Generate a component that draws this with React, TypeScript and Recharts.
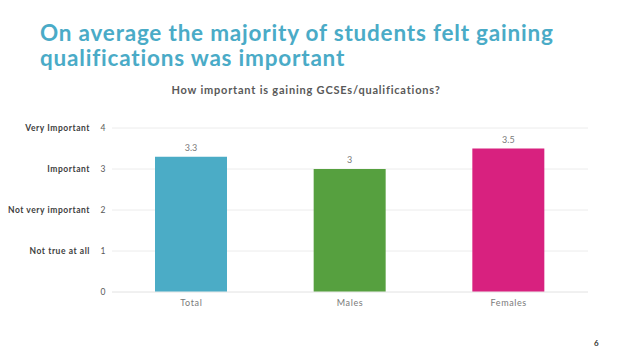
import { Bar, BarChart, CartesianGrid, Cell, LabelList, XAxis, YAxis } from "recharts";

const categories = ["Total", "Males", "Females"];
const averages = [3.3, 3, 3.5];
const barColors = ["#4bacc6", "#56a03f", "#d8217f"];
const scaleLabels = ["", "Not true at all", "Not very important", "Important", "Very Important"];
const yTicks = [0, 1, 2, 3, 4];

const data = categories.map((name, i) => ({ name, value: averages[i] }));

const font = "Lato, 'Open Sans', sans-serif";

const YTick = (props: any) => {
  const { x, y, payload } = props;
  const label = scaleLabels[payload.value];
  return (
    <g>
      <text x={x - 14} y={y} dy={3} textAnchor="end" fontSize={8.5} fontWeight={700} fill="#404040" fontFamily={font} letterSpacing={0.55}>
        {label}
      </text>
      <text x={x - 1} y={y} dy={3} textAnchor="middle" fontSize={8.5} fill="#595959" fontFamily={font}>
        {payload.value}
      </text>
    </g>
  );
};

export default function App() {
  return (
    <div style={{ position: "absolute", left: 0, top: 0, width: 640, height: 360, background: "#fff", fontFamily: font }}>
      <div style={{ position: "absolute", left: 40, top: 20, fontSize: 22.5, fontWeight: 700, color: "#4aabc7", lineHeight: "25px", letterSpacing: 0.8 }}>
        On average the majority of students felt gaining
        <br />
        qualifications was important
      </div>
      <div style={{ position: "absolute", left: 0, width: 612, top: 83, textAlign: "center", fontSize: 11, fontWeight: 700, color: "#595959", letterSpacing: 0.8 }}>
        How important is gaining GCSEs/qualifications?
      </div>
      <div style={{ position: "absolute", left: 0, top: 0 }}>
        <BarChart width={640} height={360} data={data} margin={{ top: 128, right: 52, bottom: 38, left: 0 }}>
          <CartesianGrid vertical={false} stroke="#ececec" />
          <XAxis dataKey="name" axisLine={{ stroke: "#ececec" }} tickLine={false} tick={{ fontSize: 9, fill: "#7a7a7a", fontFamily: font, letterSpacing: 0.6 }} tickMargin={2} />
          <YAxis width={112} domain={[0, 4]} ticks={yTicks} axisLine={false} tickLine={false} tick={<YTick />} />
          <Bar dataKey="value" barSize={72} isAnimationActive={false}>
            {data.map((d, i) => (
              <Cell key={d.name} fill={barColors[i]} />
            ))}
            <LabelList dataKey="value" position="top" offset={6} fontSize={9} fill="#7a7a7a" fontFamily={font} />
          </Bar>
        </BarChart>
      </div>
      <div style={{ position: "absolute", left: 594, top: 338, fontSize: 8, fontWeight: 700, color: "#333" }}>6</div>
    </div>
  );
}
